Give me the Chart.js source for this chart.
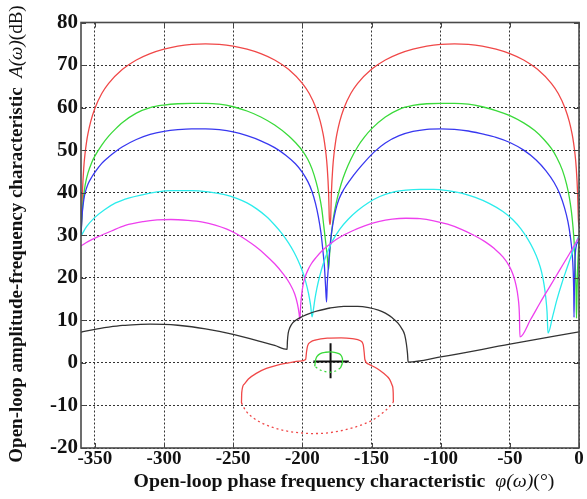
<!DOCTYPE html>
<html>
<head>
<meta charset="utf-8">
<script src="https://cdn.jsdelivr.net/npm/chart.js@4/dist/chart.umd.min.js"></script>
<style>
html,body{margin:0;padding:0;background:#fff;}
#wrap{position:relative;width:587px;height:499px;}
</style>
</head>
<body>
<div id="wrap"><canvas id="c" width="587" height="499"></canvas></div>
<script>
// ---- axis ticks ----
const xTicks = [-350,-300,-250,-200,-150,-100,-50,0];
const yTicks = [-20,-10,0,10,20,30,40,50,60,70,80];

// ---- red (largest) ----
const redPhase = [-360,-359.5,-359,-358,-357,-356,-355,-353,-350,-345,-340,-330,-320,-310,-300,-290,-280,-270,-260,-250,-240,-230,-220,-210,-200,-195,-190,-187,-185,-184,-183,-182,-181,-180.5,-180,
  -179.5,-179,-178,-177,-176,-175,-173,-170,-165,-160,-150,-140,-130,-120,-110,-100,-90,-80,-70,-60,-50,-40,-30,-20,-15,-10,-7,-5,-4,-3,-2,-1,-0.5,0];
const redGain = [30,34,39.8,45.9,49.4,51.9,53.8,56.7,59.8,63.3,65.7,69,71.2,72.7,73.75,74.46,74.87,75,74.87,74.46,73.75,72.7,71.2,69,65.7,63.3,59.8,56.7,53.8,51.9,49.4,45.9,39.8,34,32.5,
  34,39.8,45.9,49.4,51.9,53.8,56.7,59.8,63.3,65.7,69,71.2,72.7,73.75,74.46,74.87,75,74.87,74.46,73.75,72.7,71.2,69,65.7,63.3,59.8,56.7,53.8,51.9,49.4,45.9,39.8,34,32];

// ---- green ----
const greenPhase = [-360,-359.5,-359,-358,-357,-355,-352,-350,-345,-340,-335,-330,-320,-310,-300,-290,-280,-270,-260,-250,-240,-230,-220,-210,-205,-200,-196,-193,-190,-188,-186,-184.5,-183,-182,-181,
  -180.5,-180,-179,-178,-176.5,-174.5,-172,-169,-165,-160,-155,-150,-140,-130,-120,-110,-100,-90,-80,-70,-60,-50,-40,-32,-25,-20,-16,-12,-9,-7,-5.5,-4.3,-3.3,-2.6,-2.1,-1.8,
  -1.4,-1,-0.5,0];
const greenGain = [30,33.5,36,39.5,41.8,44.6,47.3,48.6,51.2,53.3,55,56.5,58.7,60,60.6,60.9,61,61,60.8,60.2,59.2,57.8,55.9,53.4,51.8,49.9,47.8,45.6,42.5,39.8,36.3,32.2,28,25,22,
  24.5,26.8,30.2,33,36,39,42,44.8,47.8,50.8,53.1,55,57.8,59.6,60.5,60.9,61,61,60.8,60.2,59.3,58.1,56.4,54.6,52.4,50.4,48.2,45.3,42,38.9,35.6,31.8,27.2,22,16.5,10.5,
  17,22,26,29];

// ---- blue ----
const bluePhase = [-360,-359.5,-359,-358,-357,-355,-352,-350,-345,-340,-335,-330,-320,-310,-300,-290,-280,-270,-260,-250,-240,-230,-220,-212,-205,-200,-196,-193,-190.5,-188.5,-186.5,-185,-184,-183.2,-182.5,
  -182,-181.3,-180.5,-179.5,-178,-176,-173.5,-170,-165,-160,-155,-148,-140,-130,-120,-110,-100,-90,-80,-70,-60,-50,-40,-31,-24,-18,-14,-10.5,-8,-6.3,-5,-4.2,-3.8,-3.6,
  -3.3,-2.9,-2,-1,0];
const blueGain = [30,33,35.5,38.3,40,42,43.8,44.8,46.9,48.4,49.7,50.8,52.5,53.7,54.4,54.8,55,55,54.8,54.3,53.4,52.2,50.6,48.8,46.8,44.8,42.6,40.3,37.5,34.5,30.5,26,22.5,18,14.3,
  18.5,22,25.5,29,32.5,35.8,38.5,40.8,43.2,45.3,47.2,49.6,51.7,53.4,54.4,54.9,55,54.9,54.5,53.8,53,51.8,50,47.7,45.2,42.4,39.8,36.5,33.2,29.8,26,21.5,16.5,10.7,
  18,24,27.5,28.3,28.6];

// ---- cyan ----
const cyanPhase = [-360,-356,-350,-343,-335,-325,-316,-305,-295,-280,-268,-257,-247,-240,-233,-226,-220,-215,-210,-206,-203,-200,-197.5,-195.5,-194,-193,
  -192,-191,-189.5,-187.5,-185,-182,-178,-173,-167,-160,-152,-144,-135,-125,-115,-105,-95,-85,-75,-65,-55,-48,-42,-37,-33,-29.5,-27,-25.2,-24,-23.1,-22.4,
  -19,-16,-12.5,-9,-4.5,0];
const cyanGain = [29.8,32,34.2,36,37.6,38.8,39.5,40.2,40.5,40.5,40.2,39.6,38.6,37.6,36.2,34.4,32.4,30.5,28.2,26,24,21.6,19,16.3,13.5,10.8,
  12.5,14.8,17.5,20.3,23.2,25.9,28.8,31.4,33.7,35.8,37.7,39.1,40.1,40.6,40.8,40.8,40.5,39.9,38.9,37.5,35.6,33.7,31.5,29.1,26.7,24,21.3,18.3,15.3,12,7,
  11,14.8,18.6,22,26.2,30];

// ---- magenta ----
const magentaPhase = [-360,-355,-348,-338,-328,-315,-305,-295,-283,-272,-263,-255,-248,-241,-234,-227,-220,-214,-209,-205.5,-203.5,-202.3,-201.8,
  -201.2,-200.5,-199.5,-198,-196,-193.5,-190,-185,-179,-172,-164,-155,-145,-135,-125,-115,-105,-95,-85,-76,-68,-61,-55,-50.5,-47.5,-45.5,-44,-43.1,-42.7,
  -35,-28,-21,-14,-7,0];
const magentaGain = [27.5,28.5,29.6,31,32.3,33.2,33.6,33.7,33.5,33.1,32.4,31.5,30.4,29,27.4,25.5,23.3,21,18.6,16.2,13.8,11.5,10.2,
  13.5,16,18.3,20.2,21.8,23.3,24.8,26.6,28.2,29.7,31,32.2,33.2,33.8,34,33.9,33.4,32.6,31.4,30,28.5,26.8,24.9,22.8,20.6,18.2,15.3,11.5,6.1,
  10.2,14.2,18,21.8,25.6,29.5];

// ---- black ----
const blackPhase = [-360,-350,-340,-330,-320,-310,-300,-290,-280,-270,-260,-250,-240,-230,-220,-211,
  -210.8,-210.2,-209,-207,-204,-200,-195,-189,-180,-170,-160,-152,-145,-140,-135,-131,-128,-126,-124.8,-124,-123.5,
  -100,-50,0];
const blackGain = [7.2,7.9,8.4,8.8,9,9.1,9.05,8.85,8.5,8,7.4,6.7,5.9,5,4.1,3.2,
  5,7,8.3,9.4,10.2,10.9,11.6,12.2,12.9,13.3,13.3,13,12.4,11.7,10.6,9.4,8,6.6,4.5,2.3,0.2,
  1.4,4.4,7.3];

// ---- red closed contour (solid upper / dashed lower) ----
const redLoopUpperPhase = [-244,-243.8,-242,-239,-233,-226,-218,-210,-202,-197.6,-197,-196.2,-194,-190,-182,-172,-164,-158,-156,-155.3,-154.8,-152,-146,-141,-137,-135,-134.3,-134.2];
const redLoopUpperGain = [-9.4,-7,-5,-3.8,-2.4,-1.3,-0.5,0,0.4,0.8,2.5,4,4.9,5.4,5.8,5.9,5.7,5.2,4.3,2.5,0.8,-0.3,-1.3,-2.5,-3.8,-5.3,-7,-9.2];
const redLoopLowerPhase = [-244,-241,-236,-230,-222,-213,-203,-193,-183,-173,-163,-155,-148,-141,-137,-134.2];
const redLoopLowerGain = [-9.4,-11.2,-12.8,-14,-15.1,-15.9,-16.4,-16.6,-16.5,-16,-15.2,-14.3,-13.2,-11.5,-10.3,-9.2];

// ---- green small contour ----
const greenLoopUpperPhase = [-191,-190.5,-189.5,-187,-183,-179.6,-176,-172.5,-171,-171.2,-172.5];
const greenLoopUpperGain = [-0.8,0.6,1.5,2.2,2.5,2.6,2.4,2,1,-0.2,-1.2];
const greenLoopLowerPhase = [-172.5,-176,-180,-184,-188,-191];
const greenLoopLowerGain = [-1.2,-1.9,-2.2,-2,-1.5,-0.8];

// ---- critical point cross ----
const crossVPhase = [-179.6,-179.6];
const crossVGain = [4.6,-3.6];
const crossHPhase = [-192,-166.4];
const crossHGain = [0.35,0.35];

function pts(xs, ys){ return xs.map((x,i)=>({x:x, y:ys[i]})); }
function ds(xs, ys, color, extra){
  return Object.assign({data: pts(xs,ys), borderColor: color, backgroundColor: color, borderWidth: 1.3,
    showLine: true, pointRadius: 0, fill: false, tension: 0}, extra||{});
}
const SMOOTH = {cubicInterpolationMode: 'monotone'};

const SERIF = '"Liberation Serif", "Times New Roman", serif';

function drawParts(ctx, parts, cx, cy){
  let total = 0;
  parts.forEach(p=>{ ctx.font = p.font; p.w = ctx.measureText(p.t).width; total += p.w; });
  let x = cx - total/2;
  ctx.textBaseline = 'middle';
  ctx.textAlign = 'left';
  parts.forEach(p=>{ ctx.font = p.font; ctx.fillText(p.t, x, cy); x += p.w; });
}

const framePlugin = {
  id: 'frame',
  afterDraw(chart){
    const {ctx, chartArea:a, scales} = chart;
    ctx.save();
    // inner ticks
    ctx.strokeStyle = '#444';
    ctx.lineWidth = 1;
    ctx.setLineDash([]);
    xTicks.forEach(v=>{
      const px = Math.round(scales.x.getPixelForValue(v))+0.5;
      ctx.beginPath(); ctx.moveTo(px, a.bottom); ctx.lineTo(px, a.bottom-5); ctx.stroke();
      ctx.beginPath(); ctx.moveTo(px, a.top); ctx.lineTo(px, a.top+5); ctx.stroke();
    });
    yTicks.forEach(v=>{
      const py = Math.round(scales.y.getPixelForValue(v))+0.5;
      ctx.beginPath(); ctx.moveTo(a.left, py); ctx.lineTo(a.left+5, py); ctx.stroke();
      ctx.beginPath(); ctx.moveTo(a.right, py); ctx.lineTo(a.right-5, py); ctx.stroke();
    });
    // box
    ctx.strokeStyle = '#4a4a4a';
    ctx.lineWidth = 1.6;
    ctx.strokeRect(a.left, a.top, a.right-a.left, a.bottom-a.top);
    // axis titles
    ctx.fillStyle = '#111';
    const fx = 19.8, fy = 19;
    drawParts(ctx, [
      {t:'Open-loop phase frequency characteristic  ', font:'bold '+fx+'px '+SERIF},
      {t:'φ(ω)', font:'italic '+fx+'px '+SERIF},
      {t:'(°)', font:fx+'px '+SERIF}
    ], 344, 482);
    ctx.save();
    ctx.translate(17, 234);
    ctx.rotate(-Math.PI/2);
    drawParts(ctx, [
      {t:'Open-loop amplitude-frequency characteristic  ', font:'bold '+fy+'px '+SERIF},
      {t:'A(ω)', font:'italic '+fy+'px '+SERIF},
      {t:'(dB)', font:fy+'px '+SERIF}
    ], 0, 0);
    ctx.restore();
    ctx.restore();
  }
};

const RED = '#f04848', GREEN = '#3ada3a', BLUE = '#3838f0', CYAN = '#2cecec', MAGENTA = '#ee40ee', BLACK = '#333333';

new Chart(document.getElementById('c'), {
  type: 'scatter',
  data: { datasets: [
    ds(blackPhase, blackGain, BLACK, SMOOTH),
    ds(magentaPhase, magentaGain, MAGENTA, SMOOTH),
    ds(cyanPhase, cyanGain, CYAN, SMOOTH),
    ds(bluePhase, blueGain, BLUE, SMOOTH),
    ds(greenPhase, greenGain, GREEN, SMOOTH),
    ds(redPhase, redGain, RED, SMOOTH),
    ds(redLoopUpperPhase, redLoopUpperGain, RED, SMOOTH),
    ds(redLoopLowerPhase, redLoopLowerGain, RED, Object.assign({borderDash:[2,3]}, SMOOTH)),
    ds(greenLoopUpperPhase, greenLoopUpperGain, GREEN, {tension: 0.3}),
    ds(greenLoopLowerPhase, greenLoopLowerGain, GREEN, Object.assign({borderDash:[2,3]}, SMOOTH)),
    ds(crossVPhase, crossVGain, '#111', {borderWidth: 2}),
    ds(crossHPhase, crossHGain, '#111', {borderWidth: 2})
  ]},
  options: {
    responsive: false,
    animation: false,
    events: [],
    layout: { padding: { top: 22.5, right: 8, left: 0, bottom: 0 } },
    plugins: { legend: {display:false}, tooltip: {enabled:false} },
    scales: {
      x: {
        type: 'linear', min: -360, max: 0,
        afterBuildTicks(s){ s.ticks = xTicks.map(v=>({value:v})); },
        afterFit(s){ s.height = 51; },
        grid: { color: '#333', lineWidth: 1, drawTicks: false },
        border: { display: false, dash: [2,2] },
        ticks: { color: '#111', padding: 0, maxRotation: 0, autoSkip: false,
          font: { family: SERIF, size: 19, weight: 'bold' } }
      },
      y: {
        type: 'linear', min: -20, max: 80,
        afterBuildTicks(s){ s.ticks = yTicks.map(v=>({value:v})); },
        afterFit(s){ s.width = 81; },
        grid: { color: '#333', lineWidth: 1, drawTicks: false },
        border: { display: false, dash: [2,2] },
        ticks: { color: '#111', padding: 3, autoSkip: false,
          font: { family: SERIF, size: 21, weight: 'bold' } }
      }
    }
  },
  plugins: [framePlugin]
});
</script>
</body>
</html>
